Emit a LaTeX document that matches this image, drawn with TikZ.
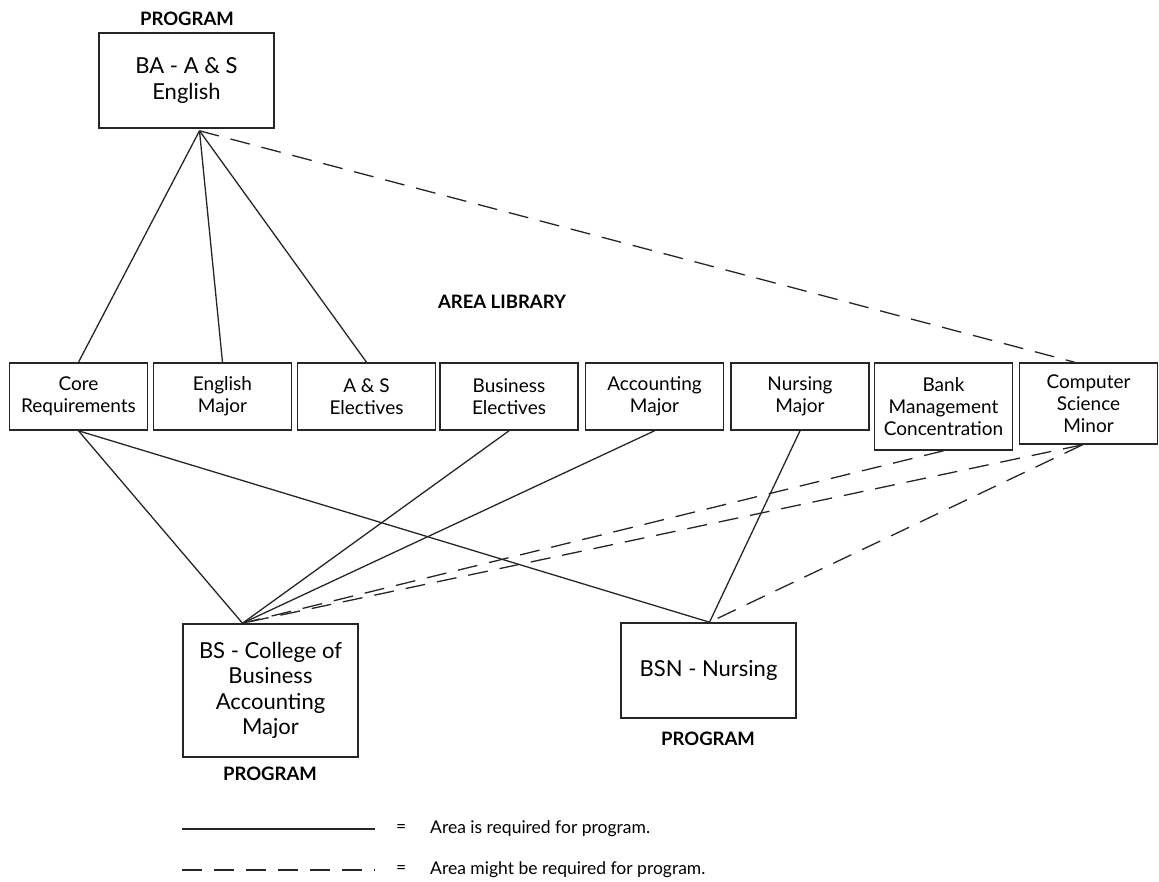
\documentclass[tikz,border=0pt]{standalone}
\usepackage{fontspec}
\setmainfont{Lato}
\usetikzlibrary{calc}
\begin{document}
\begin{tikzpicture}[x=1pt,y=-1pt,
  area/.style={draw=black!85, line width=1.6pt, minimum width=138pt, minimum height=67pt,
    inner sep=0pt, align=center, font=\fontsize{19}{22}\selectfont},
  prog/.style={draw=black!85, line width=1.6pt, minimum width=175pt, inner sep=0pt,
    align=center, font=\fontsize{22}{25.5}\selectfont},
  head/.style={inner sep=0pt, font=\fontsize{18.5}{21}\selectfont\bfseries},
  legend/.style={inner sep=0pt, anchor=west, font=\fontsize{17.5}{21}\selectfont},
  req/.style={line width=1.3pt, draw=black!85},
  opt/.style={req, dash pattern=on 20pt off 12pt}]
\useasboundingbox (0,0) rectangle (1159,882);

% programs
\node[prog, minimum height=95pt] (ba) at (186.5,80.5) {BA - A \& S\\English};
\node[head] (baL) at (187,18.5) {PROGRAM};
\node[prog, minimum height=133pt] (bs) at (270.5,690.5) {BS - College of\\Business\\Accounting\\Major};
\node[head] (bsL) at (270,774) {PROGRAM};
\node[prog, minimum height=95pt] (bsn) at (708.5,670.5) {BSN - Nursing};
\node[head] (bsnL) at (708,738.5) {PROGRAM};

% area library
\node[head] (libL) at (502,302) {AREA LIBRARY};
\node[area] (core) at (78.5,396.5) {Core\\Requirements};
\node[area] (eng)  at (222.5,396.5) {English\\Major};
\node[area] (ase)  at (366.5,396.5) {A \& S\\Electives};
\node[area] (bus)  at (509,396.5) {Business\\Electives};
\node[area] (acc)  at (654.5,396.5) {Accounting\\Major};
\node[area] (nur)  at (800,396.5) {Nursing\\Major};
\node[area, minimum height=87pt] (bank) at (943.5,406.5) {Bank\\Management\\Concentration};
\node[area, minimum height=81pt] (cs)   at (1088.5,403.5) {Computer\\Science\\Minor};

% meeting points of the connectors
\coordinate (baP)  at ($(ba.south)+(13,2)$);
\coordinate (bsP)  at ($(bs.north)+(-28,0)$);
\coordinate (bsnP) at ($(bsn.north)+(1,0)$);
\coordinate (csTop) at ($(cs.north)+(-14,0)$);
\coordinate (csBot) at ($(cs.south)+(-6,0)$);

% BA - A & S English
\draw[req] (baP) -- (core.north);
\draw[req] (baP) -- (eng.north);
\draw[req] (baP) -- (ase.north);
\draw[opt] (baP) -- (csTop);

% BS - College of Business
\draw[req] (core.south) -- (bsP);
\draw[req] (bus.south) -- (bsP);
\draw[req] (acc.south) -- (bsP);
\draw[opt] (bank.south) -- (bsP);
\draw[opt] (csBot) -- (bsP);

% BSN - Nursing
\draw[req] (core.south) -- (bsnP);
\draw[req] (nur.south) -- (bsnP);
\draw[opt] (csBot) -- (bsnP);

% legend
\coordinate (k1a) at (182,829);
\coordinate (k1b) at (375,829);
\coordinate (k2a) at (182,870);
\coordinate (k2b) at (375,870);
\draw[req] (k1a) -- (k1b);
\draw[opt] (k2a) -- (k2b);
\node[legend] (eq1) at (396,829) {=};
\node[legend] (eq2) at (396,870) {=};
\node[legend] (t1) at (430,829) {Area is required for program.};
\node[legend] (t2) at (430,870) {Area might be required for program.};
\end{tikzpicture}
\end{document}
